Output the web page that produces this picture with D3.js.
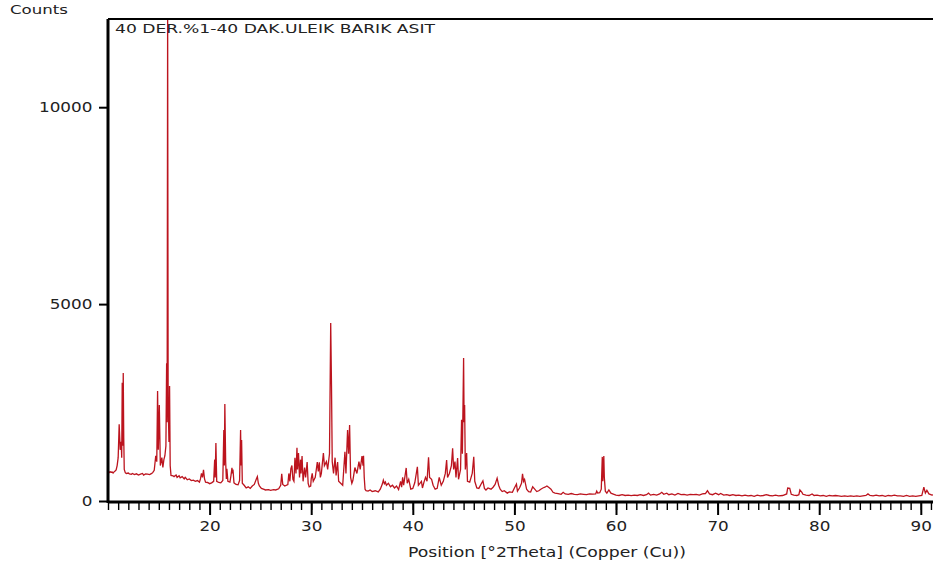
<!DOCTYPE html>
<html>
<head>
<meta charset="utf-8">
<script src="https://cdn.jsdelivr.net/npm/d3@7"></script>
<style>
  body { margin: 0; background: #fff; }
  text { font-family: "DejaVu Sans", Verdana, sans-serif; fill: #222; }
</style>
</head>
<body>
<svg id="chart"></svg>
<script>
const chart_title = "40 DER.%1-40 DAK.ULEIK BARIK ASIT";
const y_title = "Counts";
const x_title = "Position [°2Theta] (Copper (Cu))";
const x_ticks = [20, 30, 40, 50, 60, 70, 80, 90];
const y_ticks = [0, 5000, 10000];

// [2theta, counts]
const pattern = [
  [10.0,740],[10.1,720],[10.2,745],[10.3,730],[10.4,735],[10.5,710],[10.6,740],[10.7,760],[10.8,790],[10.9,900],
  [11.0,1100],[11.1,1950],[11.2,1300],[11.3,1500],[11.35,1100],[11.4,3000],[11.45,1400],[11.5,3250],[11.55,1600],[11.6,800],
  [11.7,720],[11.8,700],[12.0,710],[12.1,690],[12.3,680],[12.4,700],[12.6,670],[12.8,690],[13.0,660],[13.2,680],
  [13.4,700],[13.5,660],[13.7,690],[13.9,680],[14.1,670],[14.3,700],[14.4,720],[14.55,780],[14.7,1150],[14.8,1000],
  [14.88,2790],[14.95,1300],[15.05,2440],[15.15,900],[15.3,1100],[15.4,850],[15.5,1050],[15.6,1150],[15.7,1400],[15.77,3500],
  [15.82,2000],[15.87,12400],[15.92,2500],[16.0,1500],[16.06,2920],[16.12,900],[16.2,650],[16.4,640],[16.5,620],[16.7,660],
  [16.8,600],[17.0,640],[17.1,590],[17.3,620],[17.5,560],[17.6,600],[17.8,540],[18.0,560],[18.2,520],[18.4,530],
  [18.6,500],[18.8,520],[19.0,480],[19.1,560],[19.2,700],[19.3,600],[19.4,790],[19.5,560],[19.6,480],[19.8,470],
  [20.0,440],[20.2,460],[20.4,500],[20.5,1050],[20.55,600],[20.62,1470],[20.7,500],[20.9,470],[21.1,460],[21.3,520],
  [21.4,1800],[21.45,900],[21.5,2460],[21.58,1000],[21.65,560],[21.7,820],[21.8,500],[22.0,480],[22.1,640],[22.2,840],
  [22.25,700],[22.3,800],[22.4,460],[22.6,420],[22.8,410],[22.95,520],[23.05,1800],[23.1,900],[23.15,1550],[23.22,450],
  [23.4,400],[23.6,330],[23.8,360],[24.0,320],[24.2,380],[24.4,420],[24.6,560],[24.7,620],[24.8,450],[24.9,380],
  [25.1,320],[25.3,300],[25.5,280],[25.8,290],[26.0,270],[26.3,290],[26.5,280],[26.8,310],[27.0,400],[27.1,690],
  [27.2,420],[27.4,380],[27.7,420],[27.8,700],[27.9,500],[28.0,820],[28.1,900],[28.2,550],[28.3,500],[28.4,1100],
  [28.5,700],[28.6,1350],[28.65,800],[28.75,1220],[28.85,600],[28.95,1050],[29.0,700],[29.1,1140],[29.2,500],[29.35,850],
  [29.45,600],[29.6,990],[29.7,450],[29.8,360],[29.95,380],[30.0,560],[30.1,700],[30.2,500],[30.4,600],[30.6,990],
  [30.7,750],[30.8,980],[30.9,600],[31.0,700],[31.2,1220],[31.3,900],[31.5,1000],[31.62,800],[31.8,1200],[31.92,4520],
  [32.0,2870],[32.07,1000],[32.2,700],[32.35,1100],[32.45,650],[32.6,990],[32.7,500],[32.9,450],[33.1,400],[33.32,1250],
  [33.42,700],[33.58,1800],[33.68,1200],[33.78,1930],[33.88,600],[34.0,450],[34.1,520],[34.3,850],[34.5,700],[34.7,1000],
  [34.82,800],[35.0,1140],[35.1,900],[35.15,1150],[35.22,600],[35.3,300],[35.4,260],[35.6,250],[35.8,280],[36.0,240],
  [36.3,260],[36.6,230],[36.8,300],[37.0,430],[37.1,530],[37.2,440],[37.3,480],[37.4,400],[37.6,450],[37.8,360],
  [38.0,400],[38.2,330],[38.4,380],[38.6,290],[38.8,500],[38.9,350],[39.0,600],[39.1,400],[39.35,840],[39.45,450],
  [39.6,550],[39.8,300],[40.0,320],[40.2,470],[40.45,870],[40.55,400],[40.7,450],[40.85,500],[40.95,330],[41.1,480],
  [41.25,600],[41.4,500],[41.55,1110],[41.65,600],[41.85,550],[42.0,400],[42.2,300],[42.4,320],[42.6,600],[42.8,400],
  [43.0,500],[43.2,700],[43.33,1040],[43.42,600],[43.6,700],[43.8,900],[43.92,1340],[44.02,800],[44.15,1000],[44.25,600],
  [44.41,1090],[44.5,550],[44.7,800],[44.8,2060],[44.88,1200],[45.0,3630],[45.05,2000],[45.1,2440],[45.17,800],[45.3,1220],
  [45.38,500],[45.6,480],[45.85,700],[46.0,1120],[46.1,500],[46.3,330],[46.5,320],[46.7,420],[46.9,510],[47.05,320],
  [47.2,280],[47.4,330],[47.7,300],[47.9,350],[48.1,420],[48.3,580],[48.45,400],[48.6,300],[48.8,240],[49.0,260],
  [49.3,200],[49.5,230],[49.8,220],[50.0,330],[50.2,430],[50.3,250],[50.5,330],[50.7,450],[50.8,690],[50.9,500],
  [51.0,550],[51.2,300],[51.4,240],[51.6,230],[51.8,360],[52.0,300],[52.2,240],[52.4,260],[52.6,300],[52.8,330],
  [53.0,350],[53.2,380],[53.4,340],[53.6,300],[53.8,220],[54.0,200],[54.3,190],[54.6,170],[54.8,220],[55.0,180],
  [55.3,170],[55.6,190],[55.9,170],[56.2,160],[56.5,180],[56.8,170],[57.1,160],[57.4,180],[57.7,175],[58.0,180],
  [58.1,250],[58.2,200],[58.4,210],[58.55,300],[58.65,1120],[58.7,500],[58.8,1140],[58.85,600],[58.95,250],[59.1,200],
  [59.3,280],[59.5,200],[59.8,170],[60.0,150],[60.3,140],[60.6,160],[60.9,140],[61.2,150],[61.5,135],[61.8,150],
  [62.1,140],[62.4,160],[62.7,140],[63.0,160],[63.2,200],[63.4,150],[63.7,170],[64.0,150],[64.3,180],[64.5,220],
  [64.7,170],[65.0,200],[65.2,160],[65.5,180],[65.8,150],[66.1,190],[66.4,160],[66.7,170],[67.0,150],[67.3,170],
  [67.6,160],[67.9,170],[68.2,150],[68.5,180],[68.8,190],[69.0,260],[69.2,180],[69.5,160],[69.8,200],[70.1,160],
  [70.3,190],[70.6,150],[70.9,160],[71.2,140],[71.5,160],[71.8,140],[72.1,150],[72.4,130],[72.7,150],[73.0,130],
  [73.3,140],[73.6,120],[73.9,150],[74.2,130],[74.5,140],[74.8,160],[75.1,140],[75.4,130],[75.7,150],[76.0,130],
  [76.4,140],[76.8,180],[76.9,330],[77.1,320],[77.25,170],[77.5,150],[77.8,140],[78.0,160],[78.1,280],[78.3,220],
  [78.4,170],[78.7,150],[79.0,140],[79.3,180],[79.5,140],[79.8,150],[80.1,130],[80.4,140],[80.7,120],[81.0,140],
  [81.3,130],[81.6,140],[81.9,130],[82.2,120],[82.5,130],[82.8,120],[83.1,130],[83.4,120],[83.7,130],[84.0,120],
  [84.3,130],[84.6,140],[84.8,180],[85.0,140],[85.3,130],[85.6,150],[85.9,130],[86.2,140],[86.5,120],[86.8,140],
  [87.1,130],[87.4,150],[87.7,130],[88.0,130],[88.3,120],[88.6,140],[88.9,120],[89.2,130],[89.5,120],[89.8,130],
  [90.1,140],[90.3,350],[90.45,200],[90.6,270],[90.8,180],[91.1,150],[91.4,160],[91.7,140],[92.0,150]
];

const width = 933, height = 567;
const plot_left = 108, plot_top = 19, plot_bottom = 502;

const svg = d3.select("#chart")
  .attr("width", width)
  .attr("height", height);

const x = d3.scaleLinear().domain([10, 92]).range([plot_left, plot_left + 82 * 10.16]);
const y = d3.scaleLinear().domain([0, 12240]).range([plot_bottom - 1, plot_top]);

svg.append("clipPath").attr("id", "plot-clip")
  .append("rect")
  .attr("x", plot_left).attr("y", plot_top)
  .attr("width", width - plot_left).attr("height", plot_bottom - plot_top);

const line = d3.line()
  .x(d => x(d[0]))
  .y(d => y(d[1]));

svg.append("path")
  .datum(pattern)
  .attr("clip-path", "url(#plot-clip)")
  .attr("fill", "none")
  .attr("stroke", "#bc141e")
  .attr("stroke-width", 1.3)
  .attr("d", line);

// minor ticks every degree
const x_minor = d3.axisBottom(x)
  .tickValues(x.ticks(82))
  .tickSize(8)
  .tickFormat("");
const gxm = svg.append("g").attr("transform", "translate(0," + plot_bottom + ")").call(x_minor);
gxm.select(".domain").remove();
gxm.selectAll("line").attr("stroke", "#000").attr("stroke-width", 1.4);

const x_axis = d3.axisBottom(x)
  .tickValues(x_ticks)
  .tickSize(13)
  .tickPadding(6);
const gx = svg.append("g").attr("transform", "translate(0," + plot_bottom + ")").call(x_axis);
gx.select(".domain").remove();
gx.selectAll("line").attr("stroke", "#000").attr("stroke-width", 2);
gx.selectAll("text")
  .attr("font-size", 14).attr("font-family", "DejaVu Sans").attr("fill", "#333")
  .attr("transform", "scale(1.2,1)");

const y_axis = d3.axisLeft(y)
  .tickValues(y_ticks)
  .tickFormat(d3.format("d"))
  .tickSize(9)
  .tickPadding(4);
const gy = svg.append("g").attr("transform", "translate(" + plot_left + ",0)").call(y_axis);
gy.select(".domain").remove();
gy.selectAll("line").attr("stroke", "#000").attr("stroke-width", 2);
gy.selectAll("text")
  .attr("font-size", 14).attr("font-family", "DejaVu Sans").attr("fill", "#333")
  .attr("transform", "scale(1.2,1)");

// frame
svg.append("line").attr("x1", plot_left).attr("x2", plot_left).attr("y1", plot_top).attr("y2", plot_bottom + 1)
  .attr("stroke", "#000").attr("stroke-width", 3);
svg.append("line").attr("x1", plot_left).attr("x2", width).attr("y1", plot_bottom).attr("y2", plot_bottom)
  .attr("stroke", "#000").attr("stroke-width", 3);
svg.append("line").attr("x1", plot_left).attr("x2", width).attr("y1", plot_top).attr("y2", plot_top)
  .attr("stroke", "#000").attr("stroke-width", 2);

svg.append("text")
  .attr("x", 10).attr("y", 14)
  .attr("font-size", 13)
  .attr("textLength", 58).attr("lengthAdjust", "spacingAndGlyphs")
  .text(y_title);

svg.append("text")
  .attr("x", 115).attr("y", 33)
  .attr("font-size", 13)
  .attr("textLength", 320).attr("lengthAdjust", "spacingAndGlyphs")
  .text(chart_title);

svg.append("text")
  .attr("x", 408).attr("y", 557)
  .attr("font-size", 14)
  .attr("textLength", 278).attr("lengthAdjust", "spacingAndGlyphs")
  .text(x_title);
</script>
</body>
</html>
